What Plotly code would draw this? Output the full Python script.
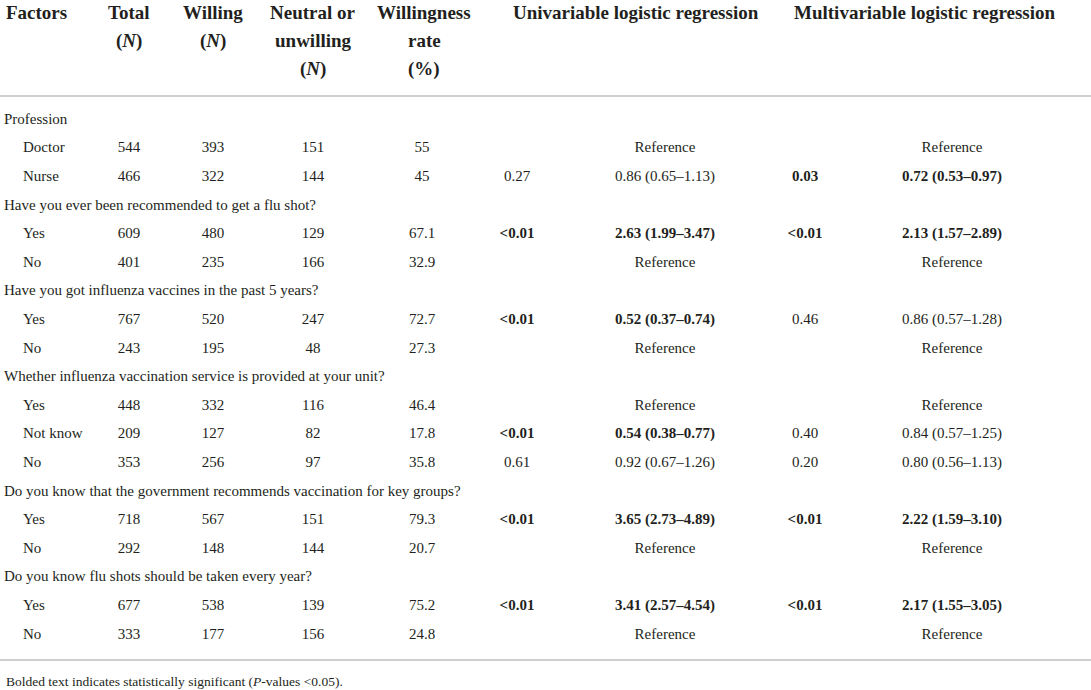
import plotly.graph_objects as go

# ---------------- data ----------------
factors = [
    "Profession", "Doctor", "Nurse",
    "Have you ever been recommended to get a flu shot?", "Yes", "No",
    "Have you got influenza vaccines in the past 5 years?", "Yes", "No",
    "Whether influenza vaccination service is provided at your unit?", "Yes", "Not know", "No",
    "Do you know that the government recommends vaccination for key groups?", "Yes", "No",
    "Do you know flu shots should be taken every year?", "Yes", "No",
]
is_group = [True, False, False, True, False, False, True, False, False,
            True, False, False, False, True, False, False, True, False, False]
total = ["", "544", "466", "", "609", "401", "", "767", "243", "", "448", "209", "353",
         "", "718", "292", "", "677", "333"]
willing = ["", "393", "322", "", "480", "235", "", "520", "195", "", "332", "127", "256",
           "", "567", "148", "", "538", "177"]
neutral = ["", "151", "144", "", "129", "166", "", "247", "48", "", "116", "82", "97",
           "", "151", "144", "", "139", "156"]
rate = ["", "55", "45", "", "67.1", "32.9", "", "72.7", "27.3", "", "46.4", "17.8", "35.8",
        "", "79.3", "20.7", "", "75.2", "24.8"]
uni_p = ["", "", "0.27", "", "<0.01", "", "", "<0.01", "", "", "", "<0.01", "0.61",
         "", "<0.01", "", "", "<0.01", ""]
uni_or = ["", "Reference", "0.86 (0.65–1.13)", "", "2.63 (1.99–3.47)", "Reference",
          "", "0.52 (0.37–0.74)", "Reference", "", "Reference", "0.54 (0.38–0.77)",
          "0.92 (0.67–1.26)", "", "3.65 (2.73–4.89)", "Reference", "", "3.41 (2.57–4.54)",
          "Reference"]
multi_p = ["", "", "0.03", "", "<0.01", "", "", "0.46", "", "", "", "0.40", "0.20",
           "", "<0.01", "", "", "<0.01", ""]
multi_or = ["", "Reference", "0.72 (0.53–0.97)", "", "2.13 (1.57–2.89)", "Reference",
            "", "0.86 (0.57–1.28)", "Reference", "", "Reference", "0.84 (0.57–1.25)",
            "0.80 (0.56–1.13)", "", "2.22 (1.59–3.10)", "Reference", "", "2.17 (1.55–3.05)",
            "Reference"]

headers = [
    ["Factors"],
    ["Total", "(<i>N</i>)"],
    ["Willing", "(<i>N</i>)"],
    ["Neutral or", "unwilling", "(<i>N</i>)"],
    ["Willingness", "rate", "(%)"],
    ["Univariable logistic regression"],
    ["Multivariable logistic regression"],
]
footnote = "Bolded text indicates statistically significant (<i>P</i>-values &lt;0.05)."

# ---------------- layout constants ----------------
W, H = 1091, 690
FONT = "Liberation Serif"
BODY = 15
HEAD = 19
INK = "#231f20"
ROW0, ROW_H = 120, 28.6
HEAD0, HEAD_H = 12.5, 28
GROUP_X, SUB_X = 4, 23
HEAD_X = [4, 129, 213, 313, 424, 636, 924]
COL_X = {"total": 129, "willing": 213, "neutral": 313, "rate": 422,
         "uni_p": 517, "uni_or": 665, "multi_p": 805, "multi_or": 952}

rows_y = [ROW0 + i * ROW_H for i in range(len(factors))]


def esc(s):
    return s.replace("<", "&lt;")


def sig(p):
    if not p:
        return False
    if p.startswith("<"):
        return True
    return float(p) < 0.05


def bold_if(texts, flags):
    return [("<b>" + esc(t) + "</b>" if f and t else esc(t)) for t, f in zip(texts, flags)]


fig = go.Figure()

# factor column
fig.add_trace(go.Scatter(
    x=[GROUP_X if g else SUB_X for g in is_group], y=rows_y, text=factors,
    mode="text", textposition="middle right",
    textfont=dict(family=FONT, size=BODY, color=INK), hoverinfo="skip", showlegend=False))

uni_sig = [sig(p) for p in uni_p]
multi_sig = [sig(p) for p in multi_p]
cols = [
    ("total", total, [False] * len(total)),
    ("willing", willing, [False] * len(willing)),
    ("neutral", neutral, [False] * len(neutral)),
    ("rate", rate, [False] * len(rate)),
    ("uni_p", uni_p, uni_sig),
    ("uni_or", uni_or, uni_sig),
    ("multi_p", multi_p, multi_sig),
    ("multi_or", multi_or, multi_sig),
]
for key, vals, flags in cols:
    fig.add_trace(go.Scatter(
        x=[COL_X[key]] * len(vals), y=rows_y, text=bold_if(vals, flags),
        mode="text", textposition="middle center",
        textfont=dict(family=FONT, size=BODY, color=INK), hoverinfo="skip", showlegend=False))

# header
for ci, lines in enumerate(headers):
    for li, line in enumerate(lines):
        fig.add_annotation(
            x=HEAD_X[ci], y=HEAD0 + li * HEAD_H, xref="x", yref="y",
            text="<b>" + line + "</b>", showarrow=False,
            xanchor="left" if ci == 0 else "center", yanchor="middle",
            font=dict(family=FONT, size=HEAD, color=INK))

# rules
fig.add_shape(type="line", x0=0, x1=W, y0=96, y1=96, xref="x", yref="y",
              line=dict(color="#cfcfcf", width=1.8))
fig.add_shape(type="line", x0=0, x1=W, y0=660, y1=660, xref="x", yref="y",
              line=dict(color="#cfcfcf", width=1.8))

fig.add_annotation(x=4, y=681, xref="x", yref="y", text=footnote, showarrow=False,
                   xanchor="left", yanchor="middle",
                   font=dict(family=FONT, size=13.5, color=INK))

fig.update_xaxes(range=[0, W], visible=False, fixedrange=True)
fig.update_yaxes(range=[H, 0], visible=False, fixedrange=True)
fig.update_layout(width=W, height=H, margin=dict(l=0, r=0, t=0, b=0),
                  paper_bgcolor="white", plot_bgcolor="white")

fig.write_html("out.html", config={"displayModeBar": False},
               post_script="document.body.style.margin='0';document.body.style.overflow='hidden';")
